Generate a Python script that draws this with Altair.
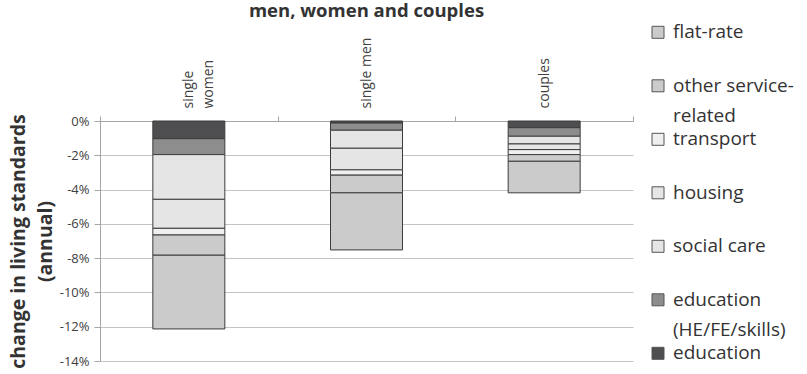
import altair as alt
import pandas as pd

# Household types along the x axis
groups = ["single women", "single men", "couples"]

# Spending-cut components, stacked from 0% downwards in this order
components = [
    "education",
    "education (HE/FE/skills)",
    "social care",
    "housing",
    "transport",
    "other service-related",
    "flat-rate",
]

# Change in living standards (% of annual), one value per component
single_women = [-1.03, -0.93, -2.61, -1.69, -0.39, -1.18, -4.30]
single_men = [-0.12, -0.42, -1.05, -1.26, -0.31, -1.03, -3.33]
couples = [-0.39, -0.50, -0.45, -0.33, -0.29, -0.39, -1.84]

y_ticks = [0, -2, -4, -6, -8, -10, -12, -14]

fills = ["#4e4e50", "#8d8d8d", "#e5e5e5", "#e5e5e5", "#efefef", "#cbcbcb", "#cbcbcb"]

# Legend lists components top to bottom, with wrapped labels
legend_order = [
    "flat-rate",
    "other service-related",
    "transport",
    "housing",
    "social care",
    "education (HE/FE/skills)",
    "education",
]
legend_labels = {
    "other service-related": "other service-\nrelated",
    "education (HE/FE/skills)": "education\n(HE/FE/skills)",
}

FONT = "Open Sans"
TEXT = "#404040"
LINE = "#a6a6a6"

rows = []
for g, vals in zip(groups, [single_women, single_men, couples]):
    for i, (c, v) in enumerate(zip(components, vals)):
        rows.append({"group": g, "component": c, "value": v, "idx": i})
df = pd.DataFrame(rows)

leg_df = pd.DataFrame(
    {
        "component": legend_order,
        "label": [legend_labels.get(c, c) for c in legend_order],
    }
)

color = alt.Color(
    "component:N",
    scale=alt.Scale(domain=components, range=fills),
    legend=None,
)

bars = alt.Chart(df).mark_bar(size=72, stroke="#3c3c3c", strokeWidth=1).encode(
    x=alt.X(
        "group:N",
        sort=groups,
        scale=alt.Scale(paddingInner=0, paddingOuter=0),
        axis=alt.Axis(
            orient="top",
            title=None,
            labelAngle=-90,
            labelAlign="left",
            labelBaseline="middle",
            labelExpr="datum.label == 'single women' ? ['single', 'women'] : datum.label",
            labelFont=FONT,
            labelFontSize=14,
            labelColor=TEXT,
            labelLineHeight=20,
            labelPadding=8,
            tickSize=5,
            tickBand="extent",
            tickColor=LINE,
            domainColor=LINE,
            grid=False,
        ),
    ),
    y=alt.Y(
        "value:Q",
        stack="zero",
        scale=alt.Scale(domain=[-14, 0], nice=False),
        axis=alt.Axis(
            values=y_ticks,
            labelExpr="datum.value + '%'",
            labelFont=FONT,
            labelFontSize=13,
            labelColor=TEXT,
            labelPadding=5,
            tickSize=6,
            tickColor=LINE,
            domainColor=LINE,
            gridColor="#c4c4c4",
            title=["change in living standards", "(annual)"],
            titleFont=FONT,
            titleFontSize=19.5,
            titleFontWeight="bold",
            titleColor="#333333",
            titleLineHeight=27,
            titlePadding=4,
        ),
    ),
    color=color,
    order=alt.Order("idx:Q"),
)

leg_y = alt.Y(
    "component:N",
    sort=legend_order,
    axis=None,
    scale=alt.Scale(type="point", range=[-88.7, 232.3], padding=0),
)

swatches = alt.Chart(leg_df).mark_square(
    size=144, stroke="#555555", strokeWidth=1, opacity=1
).encode(x=alt.value(558), y=leg_y, color=color)

labels = alt.Chart(leg_df).mark_text(
    align="left",
    baseline="alphabetic",
    dy=6,
    lineBreak="\n",
    lineHeight=30.7,
    font=FONT,
    fontSize=19,
    color="#333333",
).encode(x=alt.value(573), y=leg_y, text="label:N")

chart = (
    alt.layer(bars, swatches, labels)
    .resolve_scale(y="independent")
    .properties(
        width=533,
        height=240,
        padding={"left": 100, "top": 121, "right": 174, "bottom": 13},
        autosize=alt.AutoSizeParams(type="none"),
        title=alt.Title(
            "men, women and couples",
            font=FONT,
            fontSize=18.5,
            fontWeight="bold",
            color="#333333",
            anchor="middle",
            baseline="alphabetic",
            offset=-12,
        ),
    )
    .configure_view(stroke=None)
)

chart.save("out.html", embed_options={"renderer": "svg", "actions": False})
